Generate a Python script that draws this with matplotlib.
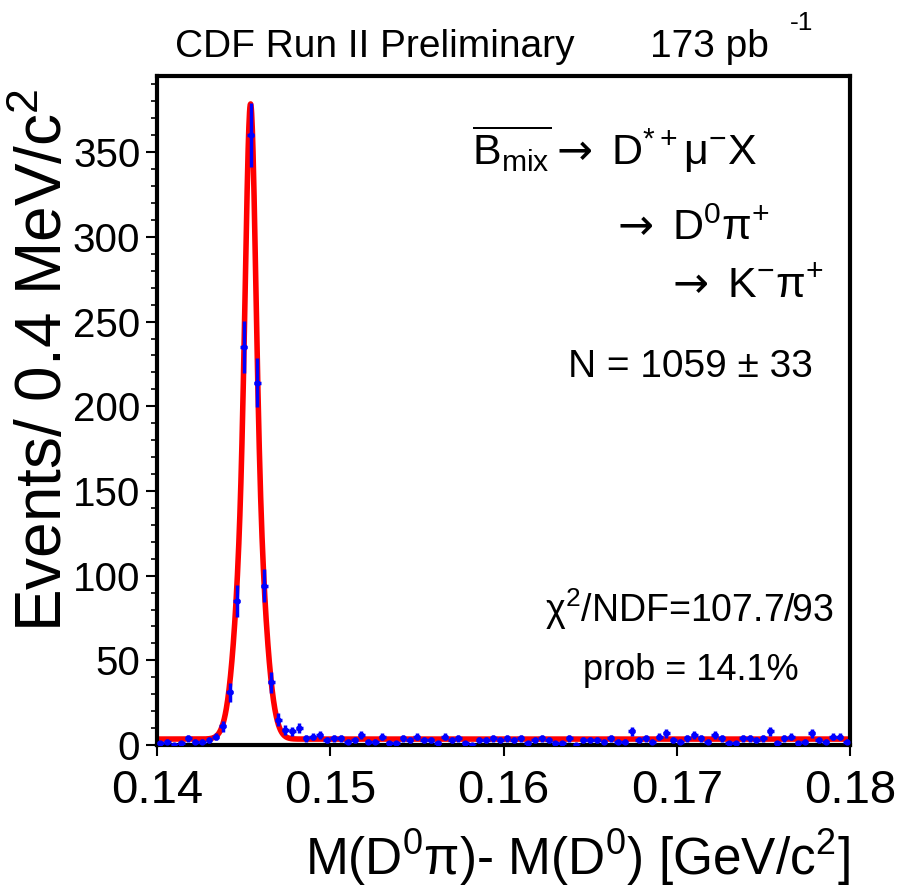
"""CDF Run II: D*-D0 mass difference for B_mix -> D*+ mu- X, with fit."""

import numpy as np
import matplotlib as mpl
import matplotlib.pyplot as plt

FONT = ["Liberation Sans", "DejaVu Sans"]
mpl.rcParams["font.family"] = FONT
mpl.rcParams["mathtext.fontset"] = "custom"
mpl.rcParams["mathtext.rm"] = "Liberation Sans"
mpl.rcParams["mathtext.it"] = "Liberation Sans:italic"
mpl.rcParams["mathtext.sf"] = "DejaVu Sans"
mpl.rcParams["mathtext.default"] = "regular"

# histogram: 100 bins of 0.4 MeV between 0.14 and 0.18 GeV
X_MIN, X_MAX, N_BINS = 0.14, 0.18, 100
counts = [
    1, 2, 0, 1, 4, 2, 2, 3, 5, 11,
    31, 85, 235, 360, 214, 94, 37, 15, 9, 8,
    10, 4, 5, 6, 3, 4, 4, 2, 3, 6,
    2, 2, 5, 1, 1, 4, 3, 5, 3, 3,
    1, 5, 3, 4, 1, 0, 3, 3, 4, 3,
    4, 3, 4, 1, 3, 4, 3, 1, 1, 4,
    0, 3, 3, 3, 2, 4, 2, 2, 8, 3,
    4, 2, 5, 7, 3, 2, 4, 6, 4, 2,
    6, 4, 1, 1, 4, 4, 3, 4, 8, 1,
    4, 5, 1, 2, 7, 3, 2, 5, 5, 2,
]

# fit: double gaussian + flat background (events per bin)
FIT_MEAN = 0.14540
FIT_AMP1, FIT_SIGMA1 = 193.0, 0.000277
FIT_AMP2, FIT_SIGMA2 = 182.0, 0.00065
FIT_BKG = 3.5

x_ticks = [0.14, 0.15, 0.16, 0.17, 0.18]
x_tick_labels = ["0.14", "0.15", "0.16", "0.17", "0.18"]
y_ticks = [0, 50, 100, 150, 200, 250, 300, 350]

W, H = 898, 893
ARROW = r"$\mathsf{\rightarrow}$"


def fit_func(x):
    d = x - FIT_MEAN
    return (FIT_AMP1 * np.exp(-0.5 * (d / FIT_SIGMA1) ** 2)
            + FIT_AMP2 * np.exp(-0.5 * (d / FIT_SIGMA2) ** 2) + FIT_BKG)


def ftext(fig, px, py, s, **kw):
    # place text by pixel position (from top-left) of the reference picture
    return fig.text(px / W, 1 - py / H, s, va="baseline", **kw)


def main():
    y = np.array(counts, dtype=float)
    edges = np.linspace(X_MIN, X_MAX, N_BINS + 1)
    centers = 0.5 * (edges[:-1] + edges[1:])
    half_w = 0.5 * (edges[1] - edges[0])

    fig = plt.figure(figsize=(W / 100, H / 100), dpi=100)
    ax = fig.add_axes([157 / W, 1 - 745 / H, 693 / W, 669 / H])

    xf = np.linspace(X_MIN, X_MAX, 2000)
    ax.plot(xf, fit_func(xf), color="red", lw=4, zorder=2)
    ax.errorbar(centers, y, xerr=half_w, yerr=np.sqrt(y), fmt="o", ms=3.5,
                color="blue", ecolor="blue", elinewidth=2.5, capsize=0, zorder=3)

    ax.set_xlim(X_MIN, X_MAX)
    ax.set_ylim(0, 395)
    ax.set_xticks(x_ticks)
    ax.set_xticklabels(x_tick_labels)
    ax.set_yticks(y_ticks)
    ax.set_yticks(np.arange(0, 395, 10), minor=True)
    ax.tick_params(axis="x", direction="out", length=8, width=1.5, labelsize=34, pad=9)
    ax.tick_params(axis="y", which="major", direction="out", length=8, width=1.5,
                   labelsize=29, pad=4)
    ax.tick_params(axis="y", which="minor", direction="out", length=4, width=1.2)
    for sp in ax.spines.values():
        sp.set_linewidth(3)

    ax.set_xlabel(r"M(D$^{0}\pi$)- M(D$^{0}$) [GeV/c$^{2}$]", fontsize=37,
                  ha="right", va="baseline")
    ax.xaxis.set_label_coords(1.0, (745 - 875) / 669)
    ax.set_ylabel(r"Events/ 0.4 MeV/c$^{2}$", fontsize=46,
                  va="baseline", ha="center")
    ax.yaxis.set_label_coords((62 - 157) / 693, (745 - 360) / 669)

    ftext(fig, 175, 57, "CDF Run II Preliminary", fontsize=28)
    ftext(fig, 650, 57, "173 pb", fontsize=28)
    ftext(fig, 790, 30, "-1", fontsize=19)

    ftext(fig, 472, 165, r"$\overline{\mathrm{B}_{mix}}$" + ARROW + r" D$^{*+}$μ$^{-}$X",
          fontsize=31)
    ftext(fig, 610, 240, ARROW + r" D$^{0}$π$^{+}$", fontsize=31)
    ftext(fig, 665, 298, ARROW + r" K$^{-}$π$^{+}$", fontsize=31)
    ftext(fig, 568, 377, "N = 1059 ± 33", fontsize=28)
    ftext(fig, 545, 622, r"$\chi^{2}$/NDF=107.7/93", fontsize=27)
    ftext(fig, 583, 680, "prob = 14.1%", fontsize=26)

    fig.savefig("out.png", dpi=100)
    plt.close(fig)


if __name__ == "__main__":
    main()
